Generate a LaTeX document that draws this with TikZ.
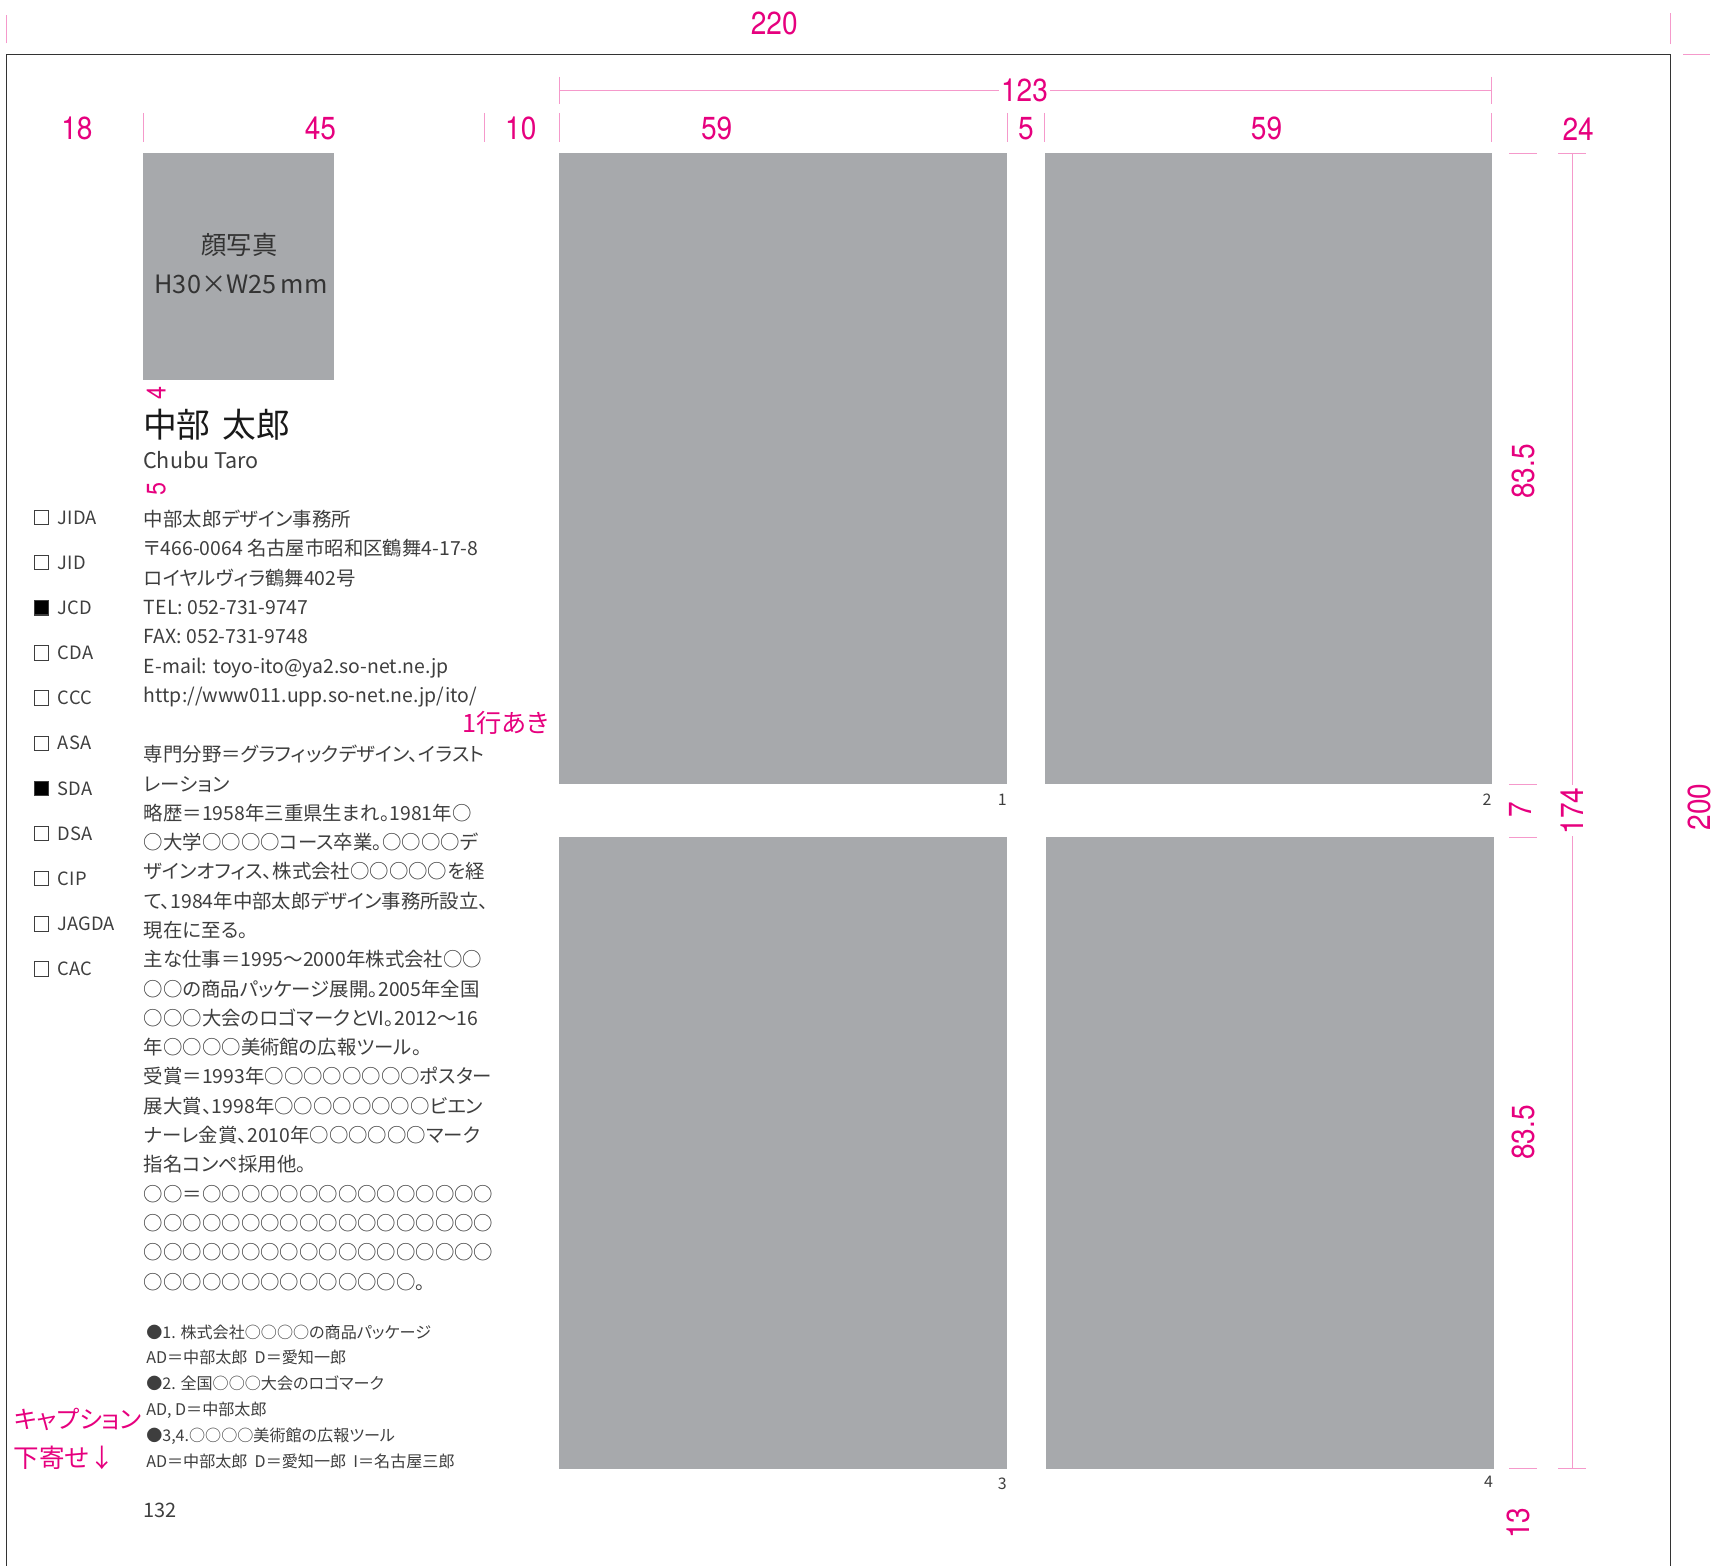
\documentclass[tikz,border=0pt]{standalone}
\usepackage{fontspec}
\setmainfont{Noto Sans CJK JP}[RawFeature=+palt]
\newfontfamily\dimfont{TeX Gyre Heros}[FakeStretch=0.88]
\usetikzlibrary{positioning}
\definecolor{mag}{RGB}{230,0,126}
\definecolor{imggray}{RGB}{167,169,172}
\definecolor{txt}{RGB}{62,62,62}
\tikzset{
  dimline/.style={draw=mag!40,line width=0.35pt},
  dimlbl/.style={text=mag,inner sep=0.6pt,font=\dimfont\fontsize{12}{12}\selectfont},
  body/.style={anchor=base west,inner sep=0pt,text=txt,font=\fontsize{7.3}{7.3}\selectfont},
  capt/.style={anchor=base west,inner sep=0pt,text=txt,font=\fontsize{6.05}{6.05}\selectfont},
  chkbox/.style={draw=txt,line width=0.4pt,minimum size=1.9mm,inner sep=0pt},
  chklbl/.style={text=txt,inner sep=0pt,font=\fontsize{6.9}{6.9}\selectfont},
  picbox/.style={fill=imggray}
}

\begin{document}
\begin{tikzpicture}[x=1mm,y=1mm]
  \useasboundingbox (-0.87,7.23) rectangle (225.9,-199.8);
  \draw[black!80,line width=0.6pt] (0,0) rectangle (220,-200);

  \fill[picbox] (18.1,-13) rectangle (43.3,-43);
  \fill[picbox] (73.1,-13) rectangle (132.3,-96.5);
  \fill[picbox] (137.3,-13) rectangle (196.4,-96.5);
  \fill[picbox] (73.1,-103.5) rectangle (132.3,-187);
  \fill[picbox] (137.4,-103.5) rectangle (196.7,-187);

  \node[text=black!80,font=\fontsize{9.5}{9.5}\selectfont] (kao) at (30.8,-25.2) {顔写真};
  \node[text=black!80,font=\fontsize{9.5}{9.5}\selectfont] (kaosize) at (31,-30.4) {H30×W25\,mm};

  \node[anchor=base east,inner sep=0pt,text=txt,font=\fontsize{6}{6}\selectfont] (n1) at (132.3,-99.3) {1};
  \node[anchor=base east,inner sep=0pt,text=txt,font=\fontsize{6}{6}\selectfont] (n2) at (196.4,-99.3) {2};
  \node[anchor=base east,inner sep=0pt,text=txt,font=\fontsize{6}{6}\selectfont] (n3) at (132.3,-189.7) {3};
  \node[anchor=base east,inner sep=0pt,text=txt,font=\fontsize{6}{6}\selectfont] (n4) at (196.6,-189.5) {4};

  \node[anchor=base west,inner sep=0pt,text=black!90,font=\fontsize{12.7}{12.7}\selectfont] (name) at (18,-50.6) {中部\hspace{0.35em}太郎};
  \node[anchor=base west,inner sep=0pt,text=txt,font=\fontsize{8.1}{8.1}\selectfont] (roman) at (18,-54.7) {Chubu Taro};

  \foreach \t [count=\i] in {中部太郎デザイン事務所,
      〒466-0064 名古屋市昭和区鶴舞4-17-8,
      ロイヤルヴィラ鶴舞402号,
      TEL: 052-731-9747,
      FAX: 052-731-9748,
      E-mail: toyo-ito@ya2.so-net.ne.jp,
      http://www011.upp.so-net.ne.jp/ito/}
    \node[body] (addr\i) at (18.1,{-62.4-(\i-1)*3.88}) {\t};

  \foreach \t [count=\i] in {専門分野＝グラフィックデザイン、イラスト,
      レーション,
      略歴＝1958年三重県生まれ。1981年○,
      ○大学○○○○コース卒業。○○○○デ,
      ザインオフィス、株式会社○○○○○を経,
      て、1984年中部太郎デザイン事務所設立、,
      現在に至る。,
      主な仕事＝1995～2000年株式会社○○,
      ○○の商品パッケージ展開。2005年全国,
      ○○○大会のロゴマークとVI。2012～16,
      年○○○○美術館の広報ツール。,
      受賞＝1993年○○○○○○○○ポスター,
      展大賞、1998年○○○○○○○○ビエン,
      ナーレ金賞、2010年○○○○○○マーク,
      指名コンペ採用他。,
      ○○＝○○○○○○○○○○○○○○○,
      ○○○○○○○○○○○○○○○○○○,
      ○○○○○○○○○○○○○○○○○○,
      ○○○○○○○○○○○○○○。}
    \node[body] (bio\i) at (18.1,{-93.5-(\i-1)*3.873}) {\t};

  \foreach \t [count=\i] in {{●1. 株式会社○○○○の商品パッケージ},
      {AD＝中部太郎\ \ D＝愛知一郎},
      {●2. 全国○○○大会のロゴマーク},
      {AD, D＝中部太郎},
      {●3,4.○○○○美術館の広報ツール},
      {AD＝中部太郎\ \ D＝愛知一郎\ \ I＝名古屋三郎}}
    \node[capt] (cap\i) at (18.4,{-169.7-(\i-1)*3.42}) {\t};

  \node[anchor=base west,inner sep=0pt,text=txt,font=\fontsize{7.5}{7.5}\selectfont] (folio) at (18,-193.4) {132};

  \foreach \n/\c [count=\i] in {JIDA/white,JID/white,JCD/black,CDA/white,CCC/white,ASA/white,
      SDA/black,DSA/white,CIP/white,JAGDA/white,CAC/white} {
    \node[chkbox,fill=\c] (chk\i) at (4.6,{-61.2-(\i-1)*5.97}) {};
    \node[chklbl,right=1.1mm of chk\i] (mem\i) {\n};
  }

  \node[anchor=east,inner sep=0pt,text=mag,font=\fontsize{9.5}{9.5}\selectfont] (gyo) at (71.7,-88.4) {1行あき};
  \node[anchor=west,inner sep=0pt,text=mag,font=\fontsize{9.2}{9.2}\selectfont] (capnote1) at (0.9,-180.4) {キャプション};
  \node[anchor=west,inner sep=0pt,text=mag,font=\fontsize{9.6}{9.6}\selectfont] (capnote2) at (0.9,-185.6) {下寄せ↓};

  \node[dimlbl,rotate=90,font=\dimfont\fontsize{10}{10}\selectfont] (sp4) at (19.8,-44.8) {4};
  \node[dimlbl,rotate=90,font=\dimfont\fontsize{10}{10}\selectfont] (sp5) at (19.8,-57.4) {5};

  \draw[dimline] (0,1.5) -- (0,5.3);
  \draw[dimline] (220,1.4) -- (220,5.5);
  \node[dimlbl] (d220) at (101.5,4.1) {220};
  \draw[dimline] (221.7,0) -- (225.2,0);
  \draw[dimline] (221.7,-200) -- (225.2,-200);
  \node[dimlbl,rotate=90] (d200) at (223.8,-99.5) {200};

  \draw[dimline] (73.1,-2.9) -- (73.1,-6.5);
  \draw[dimline] (196.4,-2.9) -- (196.4,-6.5);
  \node[dimlbl] (d123) at (134.6,-4.7) {123};
  \draw[dimline] (73.1,-4.7) -- (d123.west);
  \draw[dimline] (d123.east) -- (196.4,-4.7);

  \foreach \x in {18.1,63.2,73.1,132.3,137.3,196.4}
    \draw[dimline] (\x,-7.7) -- (\x,-11.6);
  \foreach \x/\t [count=\i] in {9.3/18,41.5/45,68/10,93.9/59,134.8/5,166.6/59,207.8/24}
    \node[dimlbl] (col\i) at (\x,-9.8) {\t};

  \foreach \y in {-13,-96.5,-103.5,-187}
    \draw[dimline] (198.7,\y) -- (202.3,\y);
  \foreach \y in {-13,-187}
    \draw[dimline] (205.2,\y) -- (208.9,\y);
  \node[dimlbl,rotate=90] (d174) at (207,-100) {174};
  \draw[dimline] (207,-13) -- (d174.east);
  \draw[dimline] (d174.west) -- (207,-187);
  \node[dimlbl,rotate=90] (h1) at (200.6,-55.1) {83.5};
  \node[dimlbl,rotate=90] (gap) at (200.2,-99.8) {7};
  \node[dimlbl,rotate=90] (h2) at (200.6,-142.5) {83.5};
  \node[dimlbl,rotate=90] (foot) at (199.9,-194.2) {13};
\end{tikzpicture}
\end{document}
